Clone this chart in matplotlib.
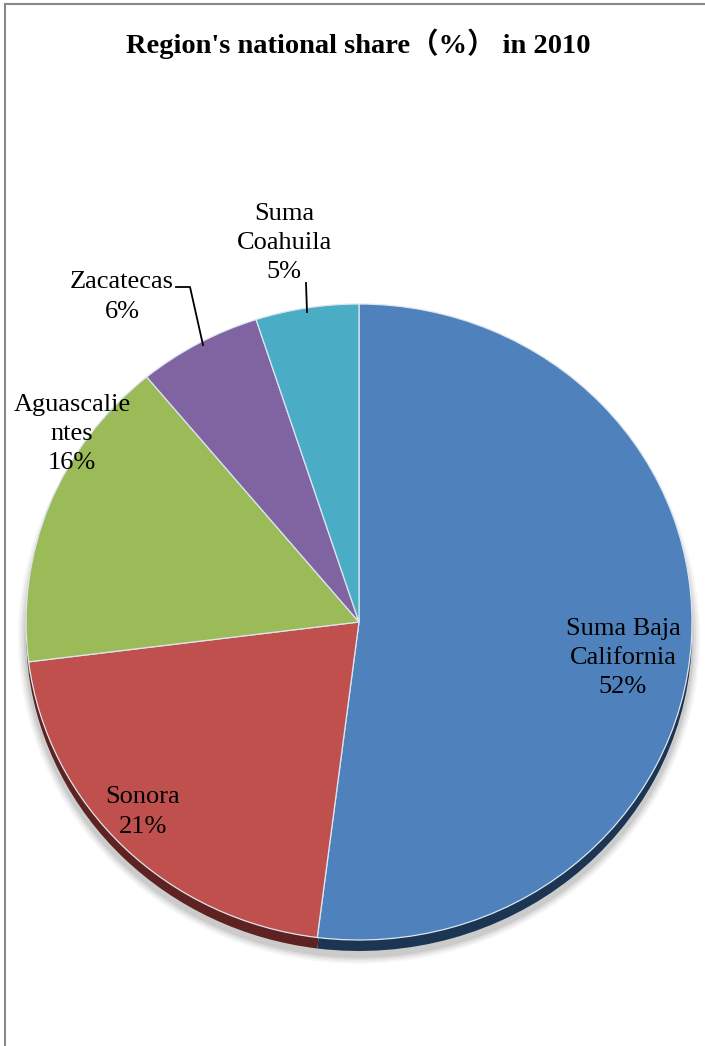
import matplotlib.pyplot as plt
from matplotlib.lines import Line2D
from matplotlib.patches import Ellipse

# data
names = ['Suma Baja\nCalifornia', 'Sonora', 'Aguascalie\nntes', 'Zacatecas', 'Suma\nCoahuila']
shares = [52, 21, 16, 6, 5]
colors = ['#4F81BD', '#C0504D', '#9BBB59', '#8064A2', '#4BACC6']
rim_colors = ['#1C3553', '#5E2220', '#4B5C2A', '#3E3050', '#245867']
label_xy = [(623, 658), (143, 812), (72, 434), (122, 297), (284, 243)]

W, H = 705, 1046
fig = plt.figure(figsize=(W / 100, H / 100), dpi=100)

# pie geometry in pixels
cx, cy, rx, ry = 359, 622, 333, 318
pad = 1.15
pie_ax = fig.add_axes([(cx - pad * rx) / W, 1 - (cy + pad * ry) / H,
                       2 * pad * rx / W, 2 * pad * ry / H])

# soft shadow under the pie
for i, a in enumerate([0.05, 0.07, 0.09, 0.12]):
    grow = 0.012 * (4 - i)
    pie_ax.add_patch(Ellipse((0, -16 / ry), 2 + grow, 2 + grow,
                             facecolor='#555555', edgecolor='none', alpha=a))

# dark rim (3D edge)
pie_ax.pie(shares, colors=rim_colors, startangle=90, counterclock=False,
           radius=1, center=(0, -11 / ry), frame=True,
           wedgeprops=dict(linewidth=0))
# top face
pie_ax.pie(shares, colors=colors, startangle=90, counterclock=False,
           radius=1, center=(0, 0), frame=True,
           wedgeprops=dict(linewidth=0.9, edgecolor='#DCE6F0'))
pie_ax.set_aspect('auto')
pie_ax.set_xlim(-pad, pad)
pie_ax.set_ylim(-pad, pad)
pie_ax.axis('off')

# overlay axes in pixel coords for text
ax = fig.add_axes([0, 0, 1, 1], facecolor='none')
ax.set_xlim(0, W)
ax.set_ylim(H, 0)
ax.axis('off')

serif = ['Liberation Serif', 'Noto Sans CJK SC', 'DejaVu Sans']
ax.text(358, 44, "Region's national share（%） in 2010", family=serif,
        fontsize=20.5, fontweight='bold', ha='center', va='center')

for name, v, (x, y) in zip(names, shares, label_xy):
    ax.text(x, y, f'{name}\n{v}%', family=serif, fontsize=19,
            ha='center', va='center', linespacing=1.42)

# leader lines
ax.plot([176, 190, 203], [287, 287, 345], color='black', lw=1.3)
ax.plot([306, 307], [283, 312], color='black', lw=1.3)

# outer border
fig.add_artist(Line2D([5 / W, 5 / W], [0, 1 - 4 / H], color='#888888', lw=1.5))
fig.add_artist(Line2D([5 / W, 1], [1 - 4 / H, 1 - 4 / H], color='#888888', lw=1.5))

fig.savefig('out.png', dpi=100)
